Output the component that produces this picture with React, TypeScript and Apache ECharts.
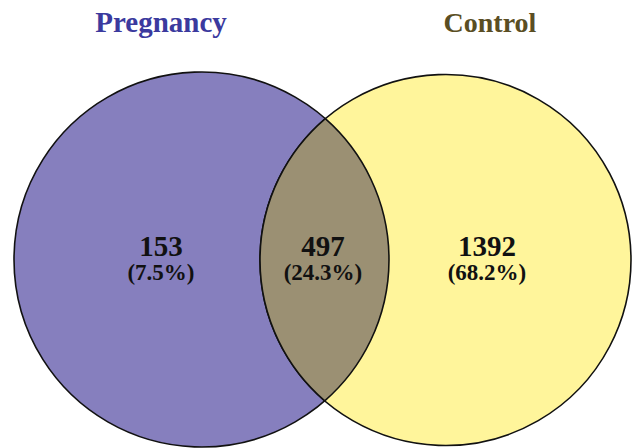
import React, { useEffect, useRef } from "react";
import * as echarts from "echarts";

// ---- data ----
const setNames = ["Pregnancy", "Control"];
const regionNames = ["Pregnancy only", "Both", "Control only"];
const regionCounts = [153, 497, 1392];
const regionPercents = ["7.5%", "24.3%", "68.2%"];

// ---- layout (pixel units on hidden axes) ----
const W = 635;
const H = 448;
const circles = [
  { cx: 201.5, cy: 259.5, r: 187.5 },
  { cx: 445.5, cy: 260, r: 185.5 },
];
const regionLabelPos = [
  [161, 246],
  [323, 246],
  [487, 246],
];
const titlePos = [
  [161, 22],
  [490, 22],
];

// ---- styles ----
const circleColors = ["#867FBE", "#FFF59B"];
const overlapColor = "#9B9073";
const titleColors = ["#3B3A9E", "#5A4E23"];
const titleSizes = [29, 28];
const FONT = "'Liberation Serif', 'Times New Roman', serif";

function lensPath(c1: any, c2: any) {
  const dx = c2.cx - c1.cx;
  const dy = c2.cy - c1.cy;
  const d = Math.sqrt(dx * dx + dy * dy);
  const a = (c1.r * c1.r - c2.r * c2.r + d * d) / (2 * d);
  const h = Math.sqrt(Math.max(c1.r * c1.r - a * a, 0));
  const px = c1.cx + (a * dx) / d;
  const py = c1.cy + (a * dy) / d;
  const ux = -dy / d;
  const uy = dx / d;
  let tx = px - h * ux, ty = py - h * uy;
  let bx = px + h * ux, by = py + h * uy;
  if (ty > by) {
    [tx, bx] = [bx, tx];
    [ty, by] = [by, ty];
  }
  return `M${tx} ${ty} A${c1.r} ${c1.r} 0 0 1 ${bx} ${by} A${c2.r} ${c2.r} 0 0 1 ${tx} ${ty} Z`;
}

export default function App() {
  const ref = useRef<HTMLDivElement>(null);

  useEffect(() => {
    if (!ref.current) return;
    const chart = echarts.init(ref.current, undefined, { renderer: "svg" });

    const option: any = {
      animation: false,
      backgroundColor: "#ffffff",
      grid: { left: 0, right: 0, top: 0, bottom: 0 },
      xAxis: { type: "value", min: 0, max: W, show: false },
      yAxis: { type: "value", min: 0, max: H, inverse: true, show: false },
      series: [
        {
          type: "custom",
          name: "sets",
          data: circles.map((c, i) => ({ name: setNames[i], value: [c.cx, c.cy, c.r] })),
          renderItem: (params: any, api: any) => {
            const i = params.dataIndex;
            const p = api.coord([api.value(0), api.value(1)]);
            const r = api.size([api.value(2), 0])[0];
            return {
              type: "circle",
              shape: { cx: p[0], cy: p[1], r },
              style: { fill: circleColors[i], stroke: "#111111", lineWidth: 1.6 },
            };
          },
          silent: true,
          z: 1,
        },
        {
          type: "custom",
          name: "overlap",
          data: [{ name: regionNames[1], value: [0] }],
          renderItem: (params: any, api: any) => {
            const pc = circles.map((c) => {
              const p = api.coord([c.cx, c.cy]);
              return { cx: p[0], cy: p[1], r: api.size([c.r, 0])[0] };
            });
            return {
              type: "path",
              shape: { pathData: lensPath(pc[0], pc[1]) },
              style: { fill: overlapColor, stroke: "#111111", lineWidth: 1.6 },
            };
          },
          silent: true,
          z: 2,
        },
        {
          type: "custom",
          name: "labels",
          data: regionCounts.map((v, i) => ({
            name: regionNames[i],
            value: [regionLabelPos[i][0], regionLabelPos[i][1], v],
          })),
          renderItem: (params: any, api: any) => {
            const i = params.dataIndex;
            const p = api.coord([api.value(0), api.value(1)]);
            return {
              type: "group",
              children: [
                {
                  type: "text",
                  style: {
                    x: p[0],
                    y: p[1],
                    text: String(api.value(2)),
                    align: "center",
                    verticalAlign: "middle",
                    fontFamily: FONT,
                    fontWeight: "bold",
                    fontSize: 29,
                    lineHeight: 24,
                    fill: "#111111",
                  },
                },
                {
                  type: "text",
                  style: {
                    x: p[0],
                    y: p[1] + 26,
                    text: `(${regionPercents[i]})`,
                    align: "center",
                    verticalAlign: "middle",
                    fontFamily: FONT,
                    fontWeight: "bold",
                    fontSize: 23,
                    lineHeight: 20,
                    fill: "#111111",
                  },
                },
              ],
            };
          },
          silent: true,
          z: 3,
        },
        {
          type: "custom",
          name: "titles",
          data: setNames.map((n, i) => ({ name: n, value: [titlePos[i][0], titlePos[i][1]] })),
          renderItem: (params: any, api: any) => {
            const i = params.dataIndex;
            const p = api.coord([api.value(0), api.value(1)]);
            return {
              type: "text",
              style: {
                x: p[0],
                y: p[1],
                text: setNames[i],
                align: "center",
                verticalAlign: "middle",
                fontFamily: FONT,
                fontWeight: "bold",
                fontSize: titleSizes[i],
                fill: titleColors[i],
              },
            };
          },
          silent: true,
          z: 3,
        },
      ],
    };

    chart.setOption(option);
    return () => chart.dispose();
  }, []);

  return (
    <div
      ref={ref}
      style={{ position: "absolute", left: 0, top: 0, width: W, height: H, background: "#fff" }}
    />
  );
}
